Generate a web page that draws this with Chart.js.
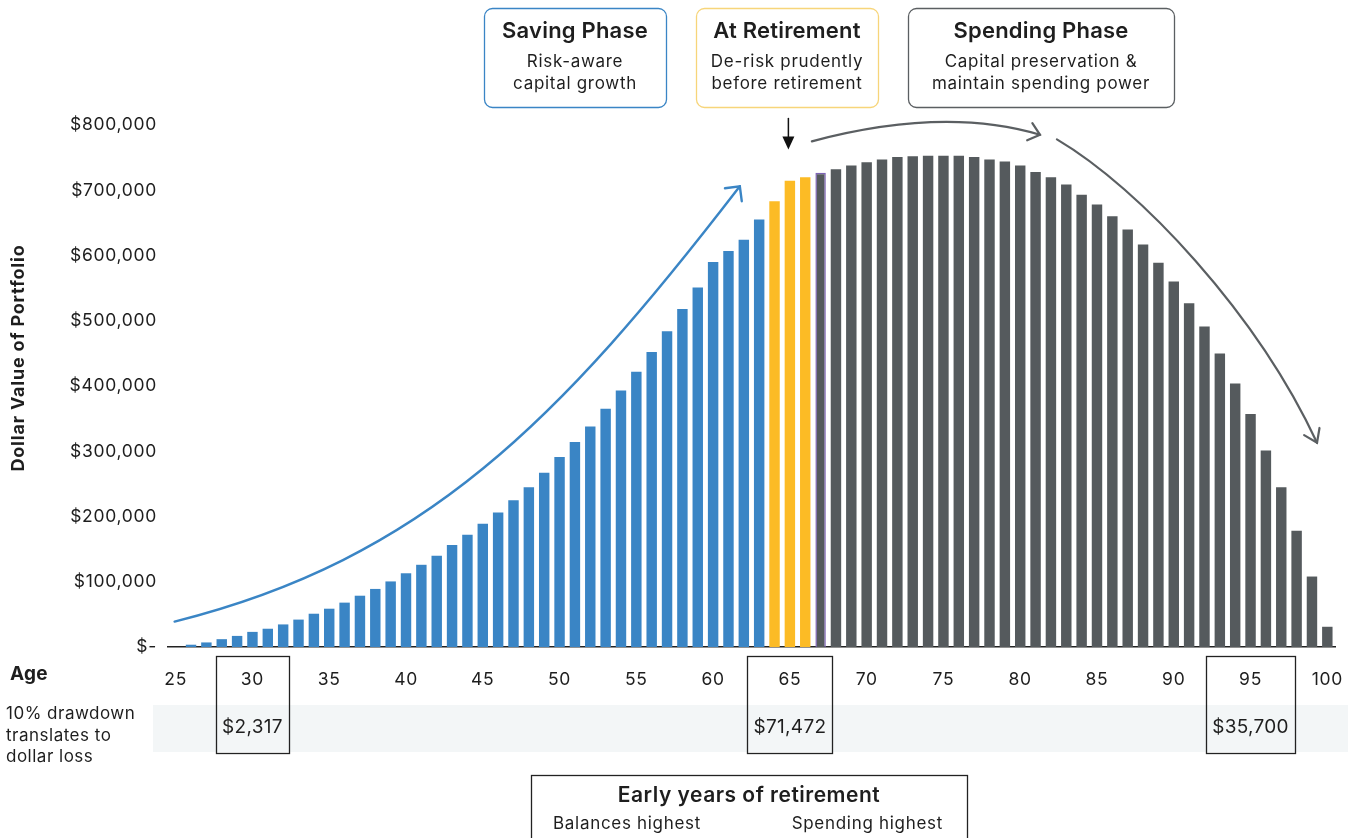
<!DOCTYPE html>
<html>
<head>
<meta charset="utf-8">
<title>Portfolio value by age</title>
<script src="https://cdn.jsdelivr.net/npm/chart.js@4.4.1/dist/chart.umd.min.js"></script>
<style>
  html, body { margin: 0; padding: 0; background: #fff; }
  #wrap { width: 1355px; height: 838px; position: relative; }
</style>
</head>
<body>
<div id="wrap"><canvas id="grafico" width="1355" height="838"></canvas></div>
<script>
// edades (eje x) y saldo de la cartera
const ages = [25, 26, 27, 28, 29, 30, 31, 32, 33, 34, 35, 36, 37, 38, 39, 40, 41, 42, 43, 44,
  45, 46, 47, 48, 49, 50, 51, 52, 53, 54, 55, 56, 57, 58, 59, 60, 61, 62, 63, 64,
  65, 66, 67, 68, 69, 70, 71, 72, 73, 74, 75, 76, 77, 78, 79, 80, 81, 82, 83, 84,
  85, 86, 87, 88, 89, 90, 91, 92, 93, 94, 95, 96, 97, 98, 99, 100];
const balances = [0, 3500, 7000, 12000, 17000, 23170, 28000, 34600, 42000, 51000,
  58700, 68000, 78600, 89000, 100500, 113000, 126000, 140000, 156500, 172000,
  189000, 206000, 225000, 245000, 267000, 291000, 314000, 338000, 365000, 393000,
  422000, 452000, 484000, 518000, 551000, 590000, 607000, 624000, 655000, 683000,
  714720, 720000, 727000, 732000, 738000, 743000, 747000, 751000, 752000, 753000,
  753000, 753000, 751000, 747000, 744000, 738000, 728000, 720000, 709000, 693000,
  678000, 660000, 640000, 617000, 589000, 560000, 527000, 491000, 450000, 404000,
  357000, 301000, 245000, 178000, 108000, 31000];

// fases
const lastSavingAge = 63;
const retirementAges = [64, 65, 66];
const firstSpendingAge = 67;

// ticks del eje y
const yTicks = [0, 100000, 200000, 300000, 400000, 500000, 600000, 700000, 800000];

// perdida por caida del 10%
const drawdownAges = [30, 65, 95];
const drawdownLabels = ["$2,317", "$71,472", "$35,700"];

const phaseTitles = ["Saving Phase", "At Retirement", "Spending Phase"];
const phaseLines = [
  ["Risk-aware", "capital growth"],
  ["De-risk prudently", "before retirement"],
  ["Capital preservation &", "maintain spending power"],
];

const BLUE = "#3a85c5";
const YELLOW = "#fcbb25";
const GRAY = "#555a5d";
const INK = "#1e1e1e";
const FONT = "Inter, 'Open Sans', sans-serif";

Chart.defaults.font.family = FONT;
Chart.defaults.color = INK;

const barColors = ages.map((a) =>
  a <= lastSavingAge ? BLUE : retirementAges.includes(a) ? YELLOW : GRAY
);
const barBorders = ages.map((a) => (a === firstSpendingAge ? 1.5 : 0));

// dibuja flecha abierta (chevron) en la punta
const chevron = (ctx, tipX, tipY, fromX, fromY, len, ang) => {
  const a = Math.atan2(fromY - tipY, fromX - tipX);
  ctx.beginPath();
  ctx.moveTo(tipX + len * Math.cos(a - ang), tipY + len * Math.sin(a - ang));
  ctx.lineTo(tipX, tipY);
  ctx.lineTo(tipX + len * Math.cos(a + ang), tipY + len * Math.sin(a + ang));
  ctx.stroke();
};

const text = (ctx, str, x, y, font, align, spacing) => {
  ctx.font = font;
  ctx.textAlign = align;
  ctx.letterSpacing = spacing + "px";
  ctx.fillText(str, x, y);
};

const annotations = {
  id: "annotations",
  afterDraw(chart) {
    const ctx = chart.ctx;
    const xs = chart.scales.x;
    const ys = chart.scales.y;
    const area = chart.chartArea;
    const px = (age, value) => [xs.getPixelForValue(age - ages[0]), ys.getPixelForValue(value)];

    ctx.save();
    ctx.textBaseline = "middle";

    // titulo eje y
    ctx.save();
    ctx.translate(19, 358);
    ctx.rotate(-Math.PI / 2);
    ctx.fillStyle = INK;
    text(ctx, "Dollar Value of Portfolio", 0, 0, "bold 18px " + FONT, "center", 0.8);
    ctx.restore();

    // fila "Age"
    ctx.fillStyle = INK;
    text(ctx, "Age", 10, area.bottom + 27, "bold 19px " + FONT, "left", 0.2);

    // banda de drawdown
    const bandTop = area.bottom + 58;
    const bandBottom = area.bottom + 105;
    ctx.fillStyle = "#f3f6f7";
    ctx.fillRect(area.left - 15, bandTop, area.right - area.left + 28, bandBottom - bandTop);

    ctx.fillStyle = INK;
    ["10% drawdown", "translates to", "dollar loss"].forEach((t, i) => {
      text(ctx, t, 6, area.bottom + 67 + i * 21.5, "17px " + FONT, "left", 0.5);
    });

    // cajas de edades destacadas
    drawdownAges.forEach((age, i) => {
      const [cx] = px(age, 0);
      ctx.fillStyle = INK;
      text(ctx, drawdownLabels[i], cx, area.bottom + 80, "19px " + FONT, "center", 0.3);
      const w = ctx.measureText(drawdownLabels[i]).width + 12;
      ctx.strokeStyle = "#222";
      ctx.lineWidth = 1.3;
      ctx.strokeRect(Math.round(cx - w / 2) + 0.5, area.bottom + 9.5, Math.round(w), 97);
    });

    // flecha azul (fase de ahorro)
    ctx.lineWidth = 2.4;
    ctx.strokeStyle = BLUE;
    ctx.lineCap = "round";
    let p0 = px(24.93, 39000), p1 = px(41.2, 135000), p2 = px(50.0, 347000), p3 = px(61.74, 706000);
    ctx.beginPath();
    ctx.moveTo(p0[0], p0[1]);
    ctx.bezierCurveTo(p1[0], p1[1], p2[0], p2[1], p3[0], p3[1]);
    ctx.stroke();
    chevron(ctx, p3[0], p3[1], p2[0], p2[1], 15, Math.PI / 4);

    // arco gris superior
    ctx.strokeStyle = "#5b5f62";
    ctx.lineWidth = 2.2;
    p0 = px(66.43, 775000);
    const q = px(75.03, 829000);
    p2 = px(81.29, 785000);
    ctx.beginPath();
    ctx.moveTo(p0[0], p0[1]);
    ctx.quadraticCurveTo(q[0], q[1], p2[0], p2[1]);
    ctx.stroke();
    chevron(ctx, p2[0], p2[1], q[0], q[1], 14, 0.7);

    // arco gris descendente
    p0 = px(82.39, 778000);
    p1 = px(87.8, 703000);
    p2 = px(95.42, 511000);
    p3 = px(99.33, 313000);
    ctx.beginPath();
    ctx.moveTo(p0[0], p0[1]);
    ctx.bezierCurveTo(p1[0], p1[1], p2[0], p2[1], p3[0], p3[1]);
    ctx.stroke();
    chevron(ctx, p3[0], p3[1], p2[0], p2[1], 15, 0.6);

    // flecha negra de jubilacion
    const top = px(65, 810000);
    const tip = px(65, 762500);
    ctx.strokeStyle = "#111";
    ctx.fillStyle = "#111";
    ctx.lineWidth = 1.5;
    ctx.beginPath();
    ctx.moveTo(top[0] - 1.5, top[1]);
    ctx.lineTo(top[0] - 1.5, tip[1] - 10);
    ctx.stroke();
    ctx.beginPath();
    ctx.moveTo(top[0] - 7.5, tip[1] - 13);
    ctx.lineTo(top[0] + 4.5, tip[1] - 13);
    ctx.lineTo(top[0] - 1.5, tip[1]);
    ctx.closePath();
    ctx.fill();

    // cajas de fases
    const boxes = [
      { x: 484, w: 182, color: BLUE },
      { x: 696, w: 182, color: "#f7d57a" },
      { x: 908, w: 266, color: "#5b5f62" },
    ];
    boxes.forEach((b, i) => {
      ctx.strokeStyle = b.color;
      ctx.lineWidth = 1.3;
      ctx.beginPath();
      ctx.roundRect(b.x + 0.5, 8.5, b.w, 99, 8);
      ctx.stroke();
      ctx.fillStyle = INK;
      text(ctx, phaseTitles[i], b.x + b.w / 2, 31, "600 22px " + FONT, "center", 0.2);
      phaseLines[i].forEach((t, j) =>
        text(ctx, t, b.x + b.w / 2, 62 + j * 22, "17px " + FONT, "center", 0.7)
      );
    });

    // caja inferior
    ctx.strokeStyle = "#222";
    ctx.lineWidth = 1.3;
    ctx.strokeRect(531.5, 775.5, 436, 80);
    ctx.fillStyle = INK;
    text(ctx, "Early years of retirement", 749, 796, "600 21px " + FONT, "center", 0.5);
    text(ctx, "Balances highest", 553, 824, "17px " + FONT, "left", 0.7);
    text(ctx, "Spending highest", 943, 824, "17px " + FONT, "right", 0.7);

    ctx.restore();
  },
};

const whiteBg = {
  id: "whiteBg",
  beforeDraw(chart) {
    const ctx = chart.ctx;
    ctx.fillStyle = "#fff";
    ctx.fillRect(0, 0, chart.width, chart.height);
    // espaciado de letras para las etiquetas de los ejes
    ctx.letterSpacing = "0.7px";
  },
};

new Chart(document.getElementById("grafico"), {
  type: "bar",
  data: {
    labels: ages.map((a) => String(a)),
    datasets: [
      {
        data: balances,
        backgroundColor: barColors,
        borderColor: "#7d63b5",
        borderWidth: barBorders,
        borderSkipped: "bottom",
        barPercentage: 0.68,
        categoryPercentage: 1,
      },
    ],
  },
  options: {
    responsive: false,
    animation: false,
    devicePixelRatio: 1,
    layout: { padding: { top: 125, right: 20, bottom: 141, left: 0 } },
    plugins: { legend: { display: false }, tooltip: { enabled: false } },
    scales: {
      x: {
        grid: { display: false, drawTicks: false },
        border: { display: true, color: "#222", width: 1.5 },
        ticks: {
          autoSkip: false,
          maxRotation: 0,
          padding: 22,
          font: { size: 17.5 },
          color: INK,
          callback: (v, i) => (ages[i] % 5 === 0 ? String(ages[i]) : ""),
        },
        afterFit: (scale) => {
          scale.height = 50;
          scale.paddingLeft = 0;
          scale.paddingRight = 0;
        },
      },
      y: {
        min: 0,
        max: 800000,
        grid: { display: false, drawTicks: false },
        border: { display: false },
        afterBuildTicks: (scale) => { scale.ticks = yTicks.map((v) => ({ value: v })); },
        ticks: {
          padding: 11,
          font: { size: 17.5 },
          color: INK,
          callback: (v) => (v === 0 ? "$-" : "$" + v.toLocaleString("en-US")),
        },
        afterFit: (scale) => { scale.width = 168; },
      },
    },
  },
  plugins: [whiteBg, annotations],
});
</script>
</body>
</html>
